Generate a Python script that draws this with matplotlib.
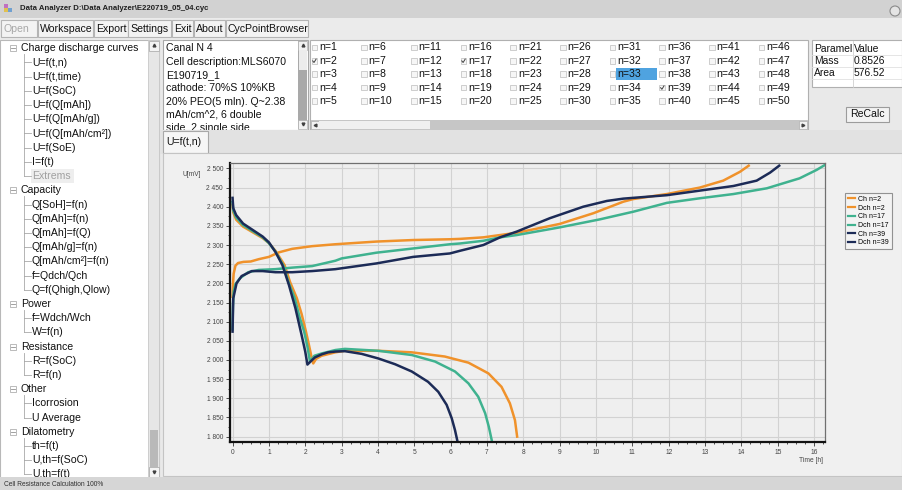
import matplotlib
matplotlib.use("Agg")
import matplotlib.pyplot as plt
from matplotlib.patches import Rectangle
from matplotlib.ticker import MultipleLocator, FuncFormatter

plt.rcParams['font.family'] = ['Liberation Sans', 'DejaVu Sans']

# window texts
title = r'Data Analyzer D:\Data Analyzer\E220719_05_04.cyc'
menu_items = ['Open', 'Workspace', 'Export', 'Settings', 'Exit', 'About', 'CycPointBrowser']
menu_left = [0, 37, 93, 127, 171, 193, 225]
menu_width = [36, 55, 34, 43, 21, 31, 82]

tree_items = [(0, 'Charge discharge curves'), (1, 'U=f(t,n)'), (1, 'U=f(t,time)'), (1, 'U=f(SoC)'),
              (1, 'U=f(Q[mAh])'), (1, 'U=f(Q[mAh/g])'), (1, 'U=f(Q[mAh/cm²])'), (1, 'U=f(SoE)'),
              (1, 'I=f(t)'), (1, 'Extrems'),
              (0, 'Capacity'), (1, 'Q[SoH]=f(n)'), (1, 'Q[mAh]=f(n)'), (1, 'Q[mAh]=f(Q)'),
              (1, 'Q[mAh/g]=f(n)'), (1, 'Q[mAh/cm²]=f(n)'), (1, 'f=Qdch/Qch'), (1, 'Q=f(Qhigh,Qlow)'),
              (0, 'Power'), (1, 'f=Wdch/Wch'), (1, 'W=f(n)'),
              (0, 'Resistance'), (1, 'R=f(SoC)'), (1, 'R=f(n)'),
              (0, 'Other'), (1, 'Icorrosion'), (1, 'U Average'),
              (0, 'Dilatometry'), (1, 'th=f(t)'), (1, 'U,th=f(SoC)'), (1, 'U,th=f(t)')]

cell_info = ['Canal N 4', 'Cell description:MLS6070', 'E190719_1', 'cathode: 70%S 10%KB',
             '20% PEO(5 mln). Q~2.38', 'mAh/cm^2, 6 double', 'side, 2 single side']
cycles = list(range(1, 51))
checked = [2, 17, 39]
selected = 33
param_names = ['Mass', 'Area']
param_values = ['0.8526', '576.52']
status = 'Cell Resistance Calculation 100%'

# curves: time [h], voltage [mV]
ch2_t = [0, 0.01, 0.03, 0.08, 0.15, 0.3, 0.5, 0.72, 1.0, 1.28, 1.64, 2.19, 2.83, 3.96, 4.97,
         5.98, 6.26, 6.9, 7.82, 9.0, 9.93, 10.75, 11.03, 11.95, 12.86, 13.5, 13.96, 14.2]
ch2_v = [2165, 2195, 2225, 2246, 2253, 2256, 2257, 2263, 2269, 2281, 2290, 2297, 2302, 2309, 2313,
         2315, 2316, 2320, 2332, 2355, 2383, 2413, 2420, 2433, 2450, 2468, 2491, 2507]
dch2_t = [0, 0.02, 0.1, 0.29, 0.56, 0.83, 1.0, 1.18, 1.43, 1.58, 1.77, 1.9, 2.02, 2.1, 2.17,
          2.22, 2.3, 2.45, 2.83, 3.09, 4.01, 4.93, 5.84, 6.49, 7.04, 7.4, 7.63, 7.77, 7.83]
dch2_v = [2405, 2385, 2366, 2348, 2333, 2318, 2305, 2285, 2248, 2204, 2161, 2120, 2074, 2040, 2009,
          1991, 2003, 2011, 2020, 2024, 2024, 2020, 2009, 1993, 1965, 1930, 1887, 1843, 1800]
ch17_t = [0, 0.01, 0.03, 0.08, 0.2, 0.43, 0.72, 1.18, 1.64, 2.19, 2.83, 3.0, 3.96, 4.97, 5.98,
          6.26, 6.9, 7.36, 7.82, 9.0, 10.11, 11.03, 11.95, 12.86, 13.78, 14.7, 15.6, 16.07, 16.3]
ch17_v = [2080, 2140, 2178, 2198, 2213, 2229, 2235, 2237, 2241, 2245, 2259, 2265, 2280, 2291, 2302,
          2304, 2311, 2320, 2326, 2346, 2367, 2387, 2410, 2422, 2433, 2448, 2474, 2496, 2509]
dch17_t = [0, 0.02, 0.1, 0.29, 0.56, 0.83, 1.0, 1.18, 1.4, 1.55, 1.71, 1.85, 1.97, 2.06, 2.13,
           2.25, 2.45, 2.83, 3.09, 4.01, 4.93, 5.57, 6.12, 6.49, 6.76, 6.95, 7.05, 7.13]
dch17_v = [2412, 2390, 2372, 2352, 2336, 2320, 2305, 2283, 2246, 2200, 2161, 2110, 2074, 2035, 1996,
           2011, 2017, 2026, 2029, 2024, 2013, 1996, 1970, 1939, 1904, 1861, 1826, 1791]
ch39_t = [0, 0.01, 0.02, 0.11, 0.25, 0.53, 0.83, 1.18, 1.64, 2.19, 2.83, 3.96, 4.97, 5.98, 6.26,
          6.9, 7.36, 7.82, 8.73, 9.65, 10.3, 10.75, 11.95, 12.86, 13.78, 14.42, 14.79, 15.04]
ch39_v = [2074, 2120, 2161, 2200, 2219, 2232, 2232, 2229, 2229, 2232, 2237, 2252, 2269, 2278, 2285,
          2300, 2320, 2335, 2370, 2400, 2415, 2421, 2430, 2442, 2454, 2468, 2489, 2507]
dch39_t = [0, 0.02, 0.1, 0.29, 0.56, 0.83, 1.0, 1.18, 1.37, 1.55, 1.73, 1.9, 2.0, 2.06, 2.19,
           2.27, 2.46, 2.63, 2.83, 3.09, 3.55, 4.01, 4.47, 4.93, 5.38, 5.66, 5.89, 6.03, 6.12, 6.19]
dch39_v = [2423, 2396, 2378, 2356, 2339, 2322, 2307, 2282, 2248, 2196, 2135, 2065, 2022, 1988, 2000,
           2007, 2015, 2020, 2022, 2023, 2016, 2004, 1989, 1970, 1943, 1917, 1883, 1848, 1817, 1787]

orange = '#f0922b'
teal = '#3fb28f'
navy = '#1c2b57'

fig = plt.figure(figsize=(9.02, 4.90), dpi=100)
fig.patch.set_facecolor('#e9e9e9')

# pixel canvas for the window parts
gui = fig.add_axes([0, 0, 1, 1])
gui.set_xlim(0, 902)
gui.set_ylim(490, 0)
gui.axis('off')


def box(x, y, w, h, fc, ec='none', lw=0.8, z=1):
    gui.add_patch(Rectangle((x, y), w, h, facecolor=fc, edgecolor=ec, linewidth=lw, zorder=z))


def txt(x, y, s, size=7.6, color='#111111', z=3, **kw):
    gui.text(x, y, s, fontsize=size, color=color, va='center', zorder=z, **kw)


# title bar + menu
box(0, 0, 902, 18, '#d2d2d2')
box(4, 4, 4, 4, '#c070c0', z=2)
box(8, 8, 4, 4, '#70a0d0', z=2)
box(4, 8, 4, 4, '#e0c050', z=2)
txt(20, 9, title, size=5.6, weight='bold', color='#202020')
gui.add_patch(plt.Circle((895, 11), 5, facecolor='#e4e4e4', edgecolor='#8a8a8a', lw=0.8, zorder=2))
box(0, 18, 902, 22, '#ebebeb')
for i, item in enumerate(menu_items):
    box(menu_left[i] + 0.5, 20.5, menu_width[i], 17, '#f3f3f3', '#b4b4b4')
    txt(menu_left[i] + 3, 29.5, item, color='#a8a8a8' if item == 'Open' else '#111111')

# tree panel
box(0, 40, 159, 438, 'white', '#b8b8b8')
row0, drow = 48.3, 14.2
for i, (lev, name) in enumerate(tree_items):
    y = row0 + i * drow
    if lev == 0:
        box(9.5, y - 3, 6, 6, 'white', '#b0b0b0', lw=0.6, z=2)
        gui.plot([11, 14.5], [y, y], color='#909090', lw=0.6, zorder=3)
        txt(20.7, y, name)
    else:
        top = y - drow + (6 if tree_items[i - 1][0] == 0 else 0)
        gui.plot([23.5, 23.5], [top, y], color='#a8a8a8', lw=0.6, zorder=2)
        gui.plot([23.5, 30.5], [y, y], color='#a8a8a8', lw=0.6, zorder=2)
        if name == 'Extrems':
            box(31, y - 7, 43, 14, '#eeeeee', z=1.5)
            txt(32, y, name, color='#a0a0a0')
        else:
            txt(32, y, name)

# tree scrollbar
box(148, 40, 11, 438, '#e6e6e6', '#c8c8c8', lw=0.6, z=2)
box(148.5, 41, 10, 10, '#f4f4f4', '#b0b0b0', lw=0.6, z=2)
box(149.5, 430, 8, 37, '#b9b9b9', z=2)
box(148.5, 467, 10, 10, '#f4f4f4', '#b0b0b0', lw=0.6, z=2)
gui.plot([153.5], [45], marker='^', ms=2, color='#404040', zorder=3)
gui.plot([153.5], [472], marker='v', ms=2, color='#404040', zorder=3)

# status bar
box(0, 477, 902, 13, '#d6d6d6', z=5)
txt(4, 484.5, status, size=4.8, color='#303030', z=6)

# cell info text box
box(163, 40, 145, 90, 'white', '#a8a8a8')
for i, line in enumerate(cell_info):
    txt(166, 48.3 + i * 13.3, line)
box(298, 41, 9, 88, '#a9a9a9', z=4)
box(298, 41, 9, 9, '#f2f2f2', '#b0b0b0', lw=0.5, z=4)
box(298.5, 50, 8, 20, '#ececec', z=4)
box(298, 120, 9, 9, '#f2f2f2', '#b0b0b0', lw=0.5, z=4)
gui.plot([302.5], [45.5], marker='^', ms=2, color='#404040', zorder=5)
gui.plot([302.5], [124.5], marker='v', ms=2, color='#404040', zorder=5)

# tab bar and chart panel
box(160, 130, 742, 24, '#e2e2e2', z=4)
box(163, 131, 45, 22, '#f6f6f6', '#a8a8a8', z=4)
txt(166, 142, 'U=f(t,n)', z=5)
box(163, 153, 739, 323, '#f0f0f0', '#c4c4c4', z=4)

# cycle check boxes
box(310, 40, 498, 90, 'white', '#b0b0b0')
col0, dcol = 311.5, 49.7
rw0, drw = 47.5, 13.4
for k in cycles:
    cx = col0 + ((k - 1) // 5) * dcol
    cy = rw0 + ((k - 1) % 5) * drw
    box(cx, cy - 2.8, 5.6, 5.6, '#f6f6f6', '#bcbcbc', lw=0.5, z=2)
    if k in checked:
        gui.plot([cx + 1.2, cx + 2.5, cx + 4.6], [cy, cy + 1.6, cy - 1.8], color='#404040', lw=0.7, zorder=3)
    if k == selected:
        box(cx + 6, cy - 6.5, 41, 12.5, '#4fa3e0', z=2)
    txt(cx + 7.5, cy, 'n=%d' % k)
box(310.5, 120, 497, 9.5, '#c6c6c6', z=2)
box(311, 120.5, 8, 8.5, '#f2f2f2', '#b0b0b0', lw=0.5, z=3)
box(319, 120.5, 111, 8.5, '#f0f0f0', z=3)
box(799, 120.5, 8, 8.5, '#f2f2f2', '#b0b0b0', lw=0.5, z=3)
gui.plot([315], [124.7], marker='<', ms=2, color='#404040', zorder=4)
gui.plot([803], [124.7], marker='>', ms=2, color='#404040', zorder=4)

# parameter table
box(812, 40, 90, 47, 'white', '#b0b0b0')
gui.plot([852.5, 852.5], [41, 87], color='#d0d0d0', lw=0.6, zorder=2)
for yy in [55, 67, 79]:
    gui.plot([812, 902], [yy, yy], color='#e0e0e0', lw=0.6, zorder=2)
txt(814, 48.5, 'Paramel', size=7.4)
txt(854, 48.5, 'Value', size=7.4)
for i, (pn, pv) in enumerate(zip(param_names, param_values)):
    txt(814, 61.5 + i * 11.5, pn, size=7.4)
    txt(854, 61.5 + i * 11.5, pv, size=7.4)
box(846, 106.5, 43, 15, '#f3f3f3', '#9c9c9c', z=2)
txt(867.5, 114, 'ReCalc', ha='center')

# chart
ax = fig.add_axes([230 / 902, 1 - 442 / 490, 595 / 902, 279 / 490], zorder=10)
ax.set_facecolor('#efefef')
ax.plot(ch2_t, ch2_v, color=orange, lw=1.8, label='Ch n=2')
ax.plot(dch2_t, dch2_v, color=orange, lw=1.8, label='Dch n=2')
ax.plot(ch17_t, ch17_v, color=teal, lw=1.8, label='Ch n=17')
ax.plot(dch17_t, dch17_v, color=teal, lw=1.8, label='Dch n=17')
ax.plot(ch39_t, ch39_v, color=navy, lw=1.8, label='Ch n=39')
ax.plot(dch39_t, dch39_v, color=navy, lw=1.8, label='Dch n=39')

ax.set_xlim(-0.07, 16.3)
ax.set_ylim(1786, 2514)
ax.xaxis.set_major_locator(MultipleLocator(1))
ax.xaxis.set_minor_locator(MultipleLocator(0.25))
ax.yaxis.set_major_locator(MultipleLocator(50))
ax.yaxis.set_minor_locator(MultipleLocator(25))
ax.yaxis.set_major_formatter(FuncFormatter(lambda v, p: f'{v:,.0f}'.replace(',', ' ')))
ax.grid(True, which='major', color='#d2d2d2', lw=0.8)
ax.set_axisbelow(True)
ax.tick_params(which='both', labelsize=4.8, labelcolor='#444444', color='#333333', width=0.6, pad=2)
ax.tick_params(which='major', length=3)
ax.tick_params(which='minor', length=1.5)
for side in ['left', 'bottom']:
    ax.spines[side].set_linewidth(1.6)
    ax.spines[side].set_color('#111111')
for side in ['top', 'right']:
    ax.spines[side].set_linewidth(0.9)
    ax.spines[side].set_color('#707070')

fig.text(192 / 902, 1 - 174 / 490, 'U[mV]', fontsize=4.8, color='#444444', ha='center', va='center', zorder=11)
fig.text(823 / 902, 1 - 460 / 490, 'Time [h]', fontsize=4.8, color='#444444', ha='right', va='center', zorder=11)

leg = ax.legend(loc='upper left', bbox_to_anchor=(845 / 902, 1 - 193 / 490), bbox_transform=fig.transFigure,
                fontsize=5, frameon=True, fancybox=False, handlelength=1.1, handletextpad=0.4,
                borderpad=0.4, labelspacing=0.25, borderaxespad=0)
leg.get_frame().set_edgecolor('#7a7a7a')
leg.get_frame().set_linewidth(0.8)
leg.get_frame().set_facecolor('#f4f4f4')
for line in leg.get_lines():
    line.set_linewidth(1.6)

fig.savefig('out.png', dpi=100, facecolor=fig.get_facecolor())
